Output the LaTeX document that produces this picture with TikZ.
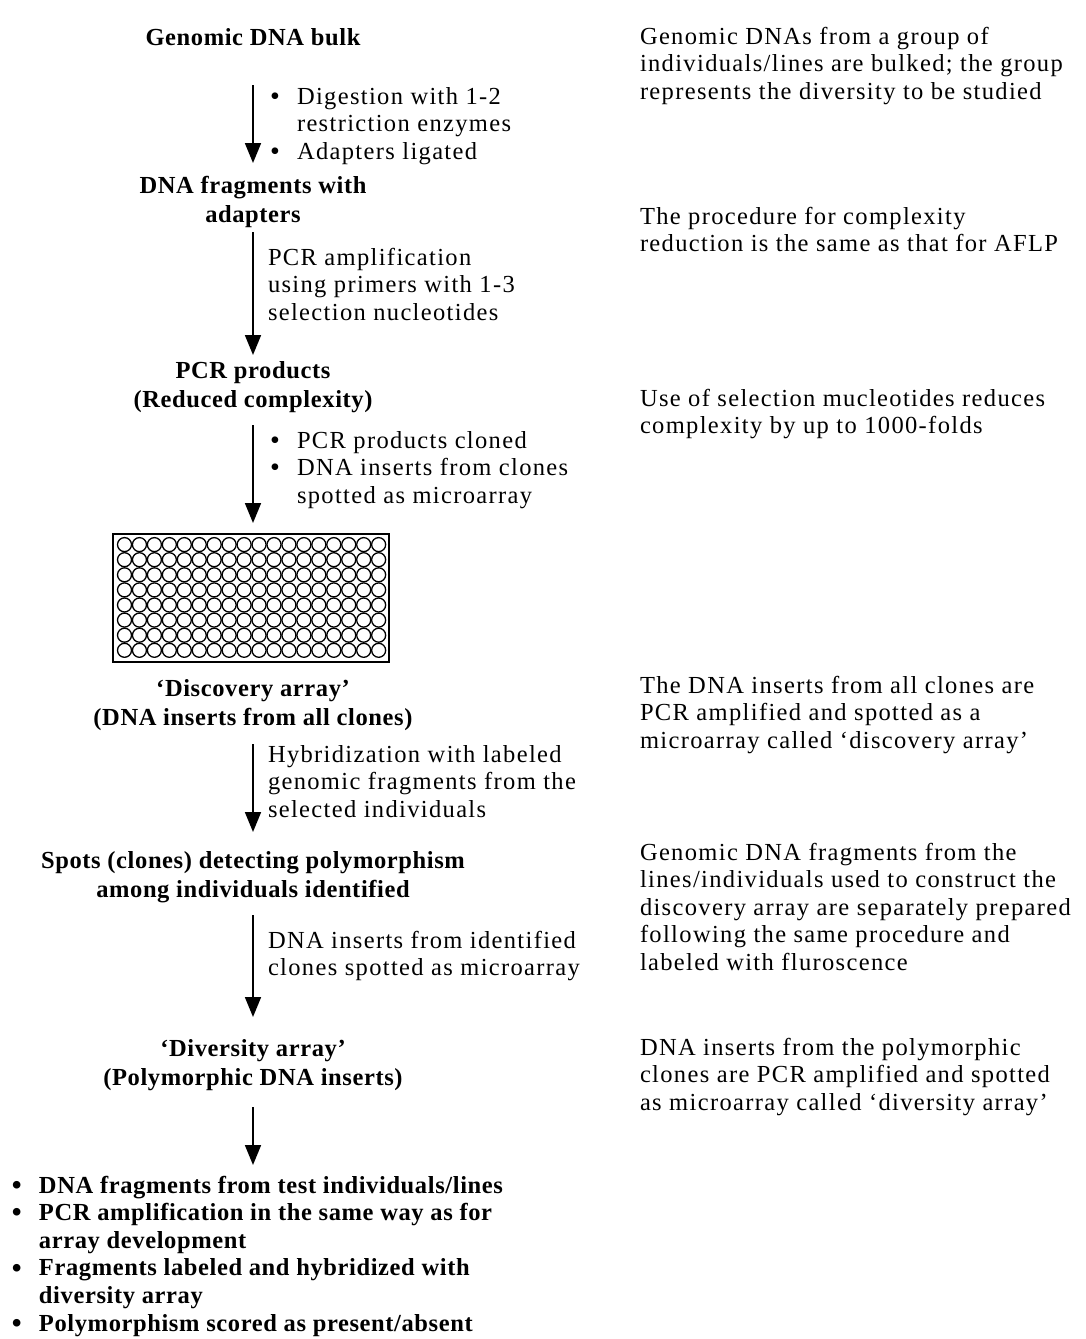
\documentclass[tikz,border=0pt]{standalone}
\usepackage{fontspec}
\setmainfont{Liberation Serif}[LetterSpace=5.5, BoldFeatures={LetterSpace=2.5}]
\usetikzlibrary{arrows.meta}
\newcommand\bulitem{\makebox[27pt][l]{\raisebox{-1.2pt}{\fontsize{28}{28}\selectfont •}}}
\newcommand\bulind{\hspace*{27pt}}
\begin{document}
\begin{tikzpicture}[x=1pt,y=1pt,
  every node/.style={inner sep=0pt, outer sep=0pt},
  plain/.style={font=\fontsize{24.5}{27.6}\selectfont},
  title/.style={align=center, anchor=north, font=\fontsize{24.5}{29.5}\selectfont\bfseries},
  note/.style={plain, align=left, anchor=north west},
  arr/.style={line width=1.8pt, -{Triangle[length=20pt,width=16pt]}},
  spot/.style={line width=1.3pt}]
\useasboundingbox (0,0) rectangle (1085,-1339);

% main column
\node[title] (t1) at (253,-24.35) {\strut Genomic DNA bulk};
\node[title] (t2) at (253,-172.35) {\strut DNA fragments with\\adapters\strut};
\node[title] (t3) at (253,-357.35) {\strut PCR products\\(Reduced complexity)\strut};
\node[draw, line width=1.6pt, minimum width=276pt, minimum height=128pt] (grid) at (251,-598) {};
\foreach \i in {0,...,17}
  \foreach \j in {0,...,7}
    \draw[spot] ([shift={(11.5+14.95*\i,-10.6-15.1*\j)}]grid.north west) circle (7pt);
\node[title] (t4) at (253,-675.35) {\strut ‘Discovery array’\\(DNA inserts from all clones)\strut};
\node[title] (t5) at (253,-847.35) {\strut Spots (clones) detecting polymorphism\\among individuals identified\strut};
\node[title] (t6) at (253,-1035.35) {\strut ‘Diversity array’\\(Polymorphic DNA inserts)\strut};
\node[note, font=\fontsize{24.5}{27.6}\selectfont\bfseries] (fin) at (12,-1173.7)
  {\strut\bulitem DNA fragments from test individuals/lines\\
   \bulitem PCR amplification in the same way as for\\
   \bulind array development\\
   \bulitem Fragments labeled and hybridized with\\
   \bulind diversity array\\
   \bulitem Polymorphism scored as present/absent};

% step labels
\node[note] (s1) at (270,-84.7) {\strut\bulitem Digestion with 1-2\\ \bulind restriction enzymes\\ \bulitem Adapters ligated};
\node[note] (s2) at (268,-245.7) {\strut PCR amplification\\using primers with 1-3\\selection nucleotides};
\node[note] (s3) at (270,-428.7) {\strut\bulitem PCR products cloned\\ \bulitem DNA inserts from clones\\ \bulind spotted as microarray};
\node[note] (s4) at (268,-742.7) {\strut Hybridization with labeled\\genomic fragments from the\\selected individuals};
\node[note] (s5) at (268,-928.7) {\strut DNA inserts from identified\\clones spotted as microarray};

% right column
\node[note] (r1) at (640,-24.7) {\strut Genomic DNAs from a group of\\individuals/lines are bulked; the group\\represents the diversity to be studied};
\node[note] (r2) at (640,-204.7) {\strut The procedure for complexity\\reduction is the same as that for AFLP};
\node[note] (r3) at (640,-386.7) {\strut Use of selection mucleotides reduces\\complexity by up to 1000-folds};
\node[note] (r4) at (640,-673.7) {\strut The DNA inserts from all clones are\\PCR amplified and spotted as a\\microarray called ‘discovery array’};
\node[note] (r5) at (640,-840.7) {\strut Genomic DNA fragments from the\\lines/individuals used to construct the\\discovery array are separately prepared\\following the same procedure and\\labeled with fluroscence};
\node[note] (r6) at (640,-1035.7) {\strut DNA inserts from the polymorphic\\clones are PCR amplified and spotted\\as microarray called ‘diversity array’};

% arrows
\draw[arr] ([yshift=-31.15]t1.south) -- ([yshift=9.35]t2.north);
\draw[arr] ([yshift=-0.65]t2.south) -- ([yshift=2.35]t3.north);
\draw[arr] ([yshift=-8.65]t3.south) -- ([yshift=11]t3.south |- grid.north);
\draw[arr] ([yshift=-9.65]t4.south) -- ([yshift=15.35]t5.north);
\draw[arr] ([yshift=-8.65]t5.south) -- ([yshift=18.35]t6.north);
\draw[arr] ([yshift=-12.65]t6.south) -- ([yshift=8.7]t6.south |- fin.north);
\end{tikzpicture}
\end{document}
